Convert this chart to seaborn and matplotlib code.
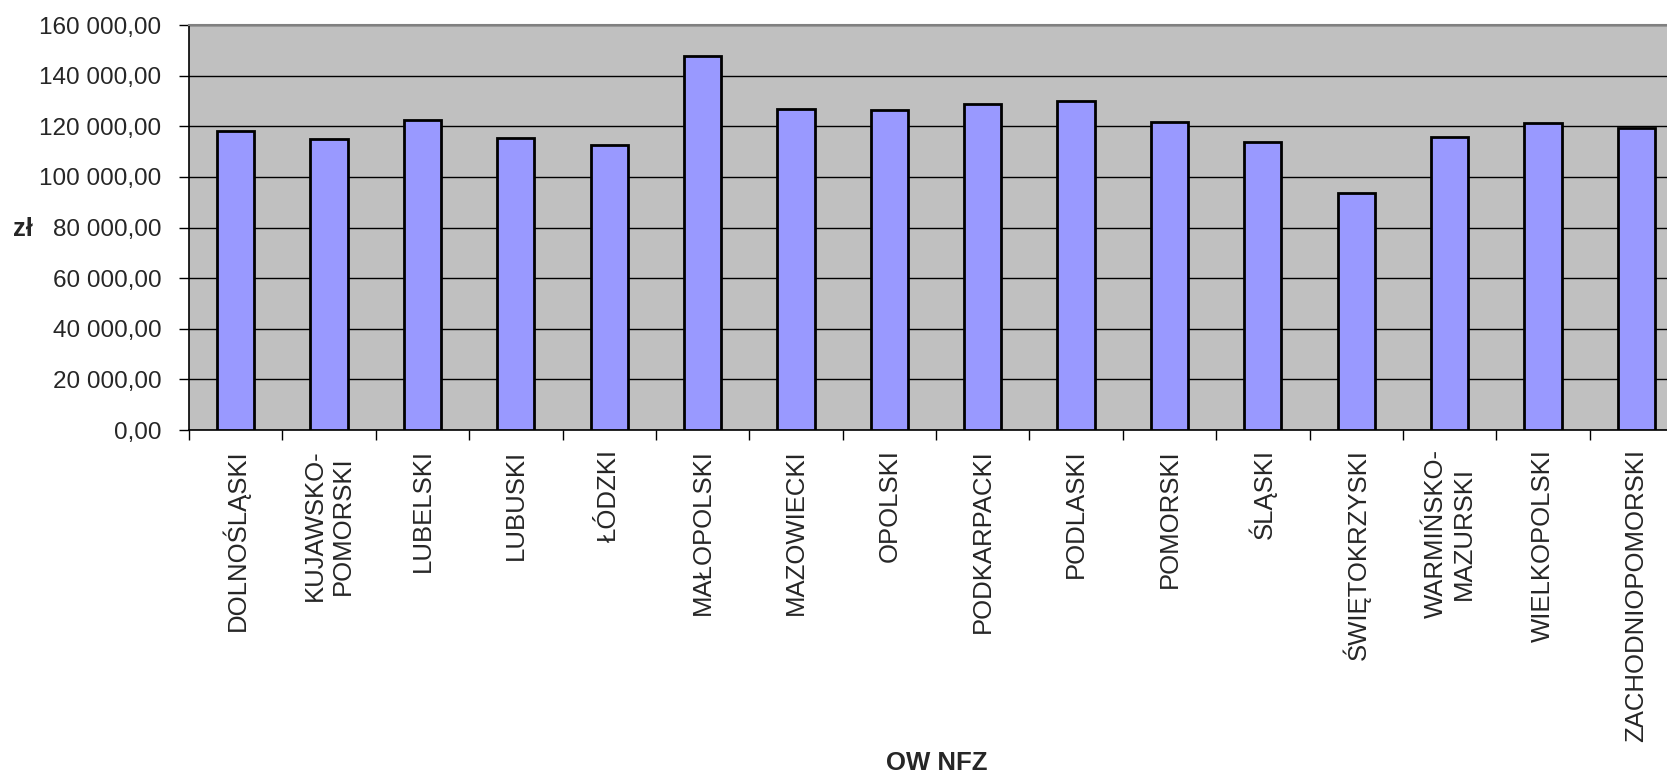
import numpy as np
import pandas as pd
import seaborn as sns
from matplotlib import pyplot as plt
from matplotlib.ticker import FuncFormatter, FixedLocator

regions = ["DOLNOŚLĄSKI", "KUJAWSKO-\nPOMORSKI", "LUBELSKI", "LUBUSKI", "ŁÓDZKI",
           "MAŁOPOLSKI", "MAZOWIECKI", "OPOLSKI", "PODKARPACKI", "PODLASKI",
           "POMORSKI", "ŚLĄSKI", "ŚWIĘTOKRZYSKI", "WARMIŃSKO-\nMAZURSKI",
           "WIELKOPOLSKI", "ZACHODNIOPOMORSKI"]
values = [118200, 114900, 122300, 115300, 112700,
          147800, 126800, 126400, 128700, 129900,
          121600, 113700, 93700, 115700,
          121300, 119400]
y_ticks = [0, 20000, 40000, 60000, 80000, 100000, 120000, 140000, 160000]

df = pd.DataFrame({"region": regions, "value": values})

sns.set_style("white")
plt.rcParams['font.family'] = ['Liberation Sans', 'DejaVu Sans']

fig = plt.figure(figsize=(16.67, 7.77), dpi=100)
# plot area runs past the right edge of the picture, as in the original
ax = fig.add_axes([189 / 1667, 1 - 430 / 777, 1494 / 1667, 405 / 777])
ax.set_facecolor('#C0C0C0')

sns.barplot(data=df, x="region", y="value", color='#9999FF', saturation=1,
            edgecolor='black', linewidth=2, width=0.4, ax=ax, zorder=3)

ax.set_ylim(0, 160000)
ax.set_xlim(-0.5, len(regions) - 0.5)
ax.set_yticks(y_ticks)


def pl_fmt(v, pos):
    s = f"{v:,.2f}"
    return s.replace(",", " ").replace(".", ",")


ax.yaxis.set_major_formatter(FuncFormatter(pl_fmt))
ax.yaxis.grid(True, color='black', linewidth=1)
ax.set_axisbelow(True)

# category labels at centres, tick marks at boundaries
ax.tick_params(axis='x', which='major', length=0, pad=14, labelsize=18.5, labelrotation=90)
ax.xaxis.set_minor_locator(FixedLocator(np.arange(-0.5, len(regions), 1.0)))
ax.tick_params(axis='x', which='minor', bottom=True, length=7, width=1, color='black')
ax.tick_params(axis='y', left=True, length=7, width=1, color='black', labelsize=17.5, pad=13)
for lab in ax.get_xticklabels():
    lab.set_multialignment('center')

for side in ['left', 'bottom']:
    ax.spines[side].set_color('black')
    ax.spines[side].set_linewidth(1.2)
ax.spines['top'].set_color('#808080')
ax.spines['top'].set_linewidth(1.5)
ax.spines['right'].set_visible(False)

ax.set_ylabel('zł', rotation=0, fontsize=18.5, fontweight='bold', va='center', ha='center')
ax.yaxis.set_label_coords(-0.111, 0.496)
ax.set_xlabel('')
fig.text(937 / 1667, 1 - 763 / 777, 'OW NFZ', fontsize=18.5, fontweight='bold',
         ha='center', va='center')

fig.savefig('out.png', dpi=100)
